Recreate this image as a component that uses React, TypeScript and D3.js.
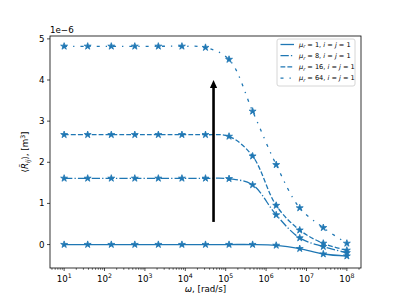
import React from "react";
import * as d3 from "d3";

// angular frequency samples [rad/s]
const omega = [
  1e1, 3.83e1, 1.47e2, 5.62e2, 2.15e3, 8.25e3, 3.16e4, 1.21e5, 4.64e5,
  1.78e6, 6.81e6, 2.61e7, 1e8,
];

// <R_ij> values, in units of 1e-6 m^3
const mu1 = [0, 0, 0, 0, 0, 0, 0, 0, 0, -0.02, -0.1, -0.23, -0.28];
const mu8 = [1.61, 1.61, 1.61, 1.61, 1.61, 1.61, 1.61, 1.6, 1.45, 0.72, 0.16, -0.05, -0.2];
const mu16 = [2.67, 2.67, 2.67, 2.67, 2.67, 2.67, 2.67, 2.63, 2.15, 0.95, 0.35, 0.03, -0.14];
const mu64 = [4.82, 4.82, 4.82, 4.82, 4.82, 4.82, 4.79, 4.5, 3.24, 1.94, 0.89, 0.41, 0.03];

const muLabels = ["1", "8", "16", "64"];
const yTicks = [0, 1, 2, 3, 4, 5];
const xTickExps = [1, 2, 3, 4, 5, 6, 7, 8];

// arrow annotation (data coords)
const arrowX = 5e4;
const arrowFrom = 0.55;
const arrowTo = 4.0;

const FONT = "DejaVu Sans, sans-serif";
const BLUE = "#1f77b4";

const width = 399;
const height = 299;
const margin = { top: 36, right: 39, bottom: 32, left: 50 };

const App = () => {
  const left = margin.left;
  const right = width + 1 - margin.right;
  const top = margin.top;
  const bottom = height + 1 - margin.bottom;

  const x = d3.scaleLog().domain([10 ** 0.65, 10 ** 8.35]).range([left, right]);
  const y = d3.scaleLinear().domain([-0.57, 5.07]).range([bottom, top]);

  const seriesList = [
    { values: mu1, dash: "none" },
    { values: mu8, dash: "8.3,2.1,1.3,2.1" },
    { values: mu16, dash: "4.8,2.1" },
    { values: mu64, dash: "3,6,1.3,6" },
  ];

  const line = d3
    .line<number>()
    .x((_, i) => x(omega[i]))
    .y((d) => y(d))
    .curve(d3.curveCatmullRom.alpha(0.5));

  const star = d3.symbol().type(d3.symbolStar).size(15)();

  // minor ticks of the log axis
  const minorTicks: number[] = [];
  for (let e = 0; e <= 8; e++) {
    for (let m = 2; m <= 9; m++) {
      const v = m * 10 ** e;
      if (x(v) >= left && x(v) <= right) minorTicks.push(v);
    }
  }

  const ax = x(arrowX);
  const ay0 = y(arrowFrom);
  const ay1 = y(arrowTo);

  const legX = 277;
  const legY = 39;

  return (
    <svg
      width={width}
      height={height}
      style={{ position: "absolute", left: 0, top: 0, background: "white" }}
      fontFamily={FONT}
    >
      <rect x={0} y={0} width={width} height={height} fill="white" />

      {/* series */}
      {seriesList.map((s, si) => (
        <g key={si}>
          <path
            d={line(s.values) || ""}
            fill="none"
            stroke={BLUE}
            strokeWidth={1.3}
            strokeDasharray={s.dash}
          />
          {s.values.map((v, i) => (
            <path
              key={i}
              d={star || ""}
              transform={`translate(${x(omega[i])},${y(v)})`}
              fill={BLUE}
              stroke={BLUE}
              strokeWidth={0.8}
            />
          ))}
        </g>
      ))}

      {/* arrow */}
      <line x1={ax} x2={ax} y1={ay0} y2={ay1 + 7} stroke="black" strokeWidth={2.6} />
      <polygon
        points={`${ax - 3.6},${ay1 + 8} ${ax + 3.6},${ay1 + 8} ${ax},${ay1}`}
        fill="black"
      />

      {/* axes frame */}
      <rect
        x={left}
        y={top}
        width={right - left}
        height={bottom - top}
        fill="none"
        stroke="black"
        strokeWidth={0.8}
      />

      {/* x ticks */}
      {minorTicks.map((v, i) => (
        <line key={i} x1={x(v)} x2={x(v)} y1={bottom} y2={bottom + 1.8} stroke="black" strokeWidth={0.6} />
      ))}
      {xTickExps.map((e) => (
        <g key={e} transform={`translate(${x(10 ** e)},${bottom})`}>
          <line y1={0} y2={3} stroke="black" strokeWidth={0.7} />
          <text y={14} textAnchor="middle" fontSize={8.7} fill="black">
            <tspan>10</tspan>
            <tspan fontSize={6.2} dy={-3.8}>{e}</tspan>
          </text>
        </g>
      ))}

      {/* y ticks */}
      {yTicks.map((t) => (
        <g key={t} transform={`translate(${left},${y(t)})`}>
          <line x1={0} x2={-3} stroke="black" strokeWidth={0.7} />
          <text x={-5.5} dy="0.35em" textAnchor="end" fontSize={8.7} fill="black">
            {t}
          </text>
        </g>
      ))}

      {/* offset text */}
      <text x={left} y={top - 3} fontSize={8.7} fill="black">
        1e−6
      </text>

      {/* axis labels */}
      <text x={(left + right) / 2} y={292} textAnchor="middle" fontSize={8.7} fill="black">
        <tspan fontStyle="italic">ω</tspan>
        <tspan>, [rad/s]</tspan>
      </text>
      <text
        transform={`translate(28,${(top + bottom) / 2}) rotate(-90)`}
        textAnchor="middle"
        fontSize={8.7}
        fill="black"
      >
        <tspan>⟨</tspan>
        <tspan fontStyle="italic">R̃</tspan>
        <tspan fontStyle="italic" fontSize={6.2} dy={2}>ij</tspan>
        <tspan dy={-2}>⟩, [m</tspan>
        <tspan fontSize={6.2} dy={-3.5}>3</tspan>
        <tspan dy={3.5}>]</tspan>
      </text>

      {/* legend */}
      <rect
        x={legX}
        y={legY}
        width={78}
        height={47}
        rx={2}
        fill="white"
        fillOpacity={0.8}
        stroke="#cccccc"
        strokeWidth={0.8}
      />
      {seriesList.map((s, i) => {
        const ly = legY + 5.5 + i * 11.2;
        return (
          <g key={i}>
            <line
              x1={legX + 3.5}
              x2={legX + 17}
              y1={ly}
              y2={ly}
              stroke={BLUE}
              strokeWidth={1.3}
              strokeDasharray={s.dash}
            />
            <text x={legX + 22} y={ly} dy="0.35em" fontSize={6.6} fill="black">
              <tspan fontStyle="italic">μ</tspan>
              <tspan fontStyle="italic" fontSize={4.8} dy={1.5}>r</tspan>
              <tspan dy={-1.5}> = {muLabels[i]}, </tspan>
              <tspan fontStyle="italic">i</tspan>
              <tspan> = </tspan>
              <tspan fontStyle="italic">j</tspan>
              <tspan> = 1</tspan>
            </text>
          </g>
        );
      })}
    </svg>
  );
};

export default App;
